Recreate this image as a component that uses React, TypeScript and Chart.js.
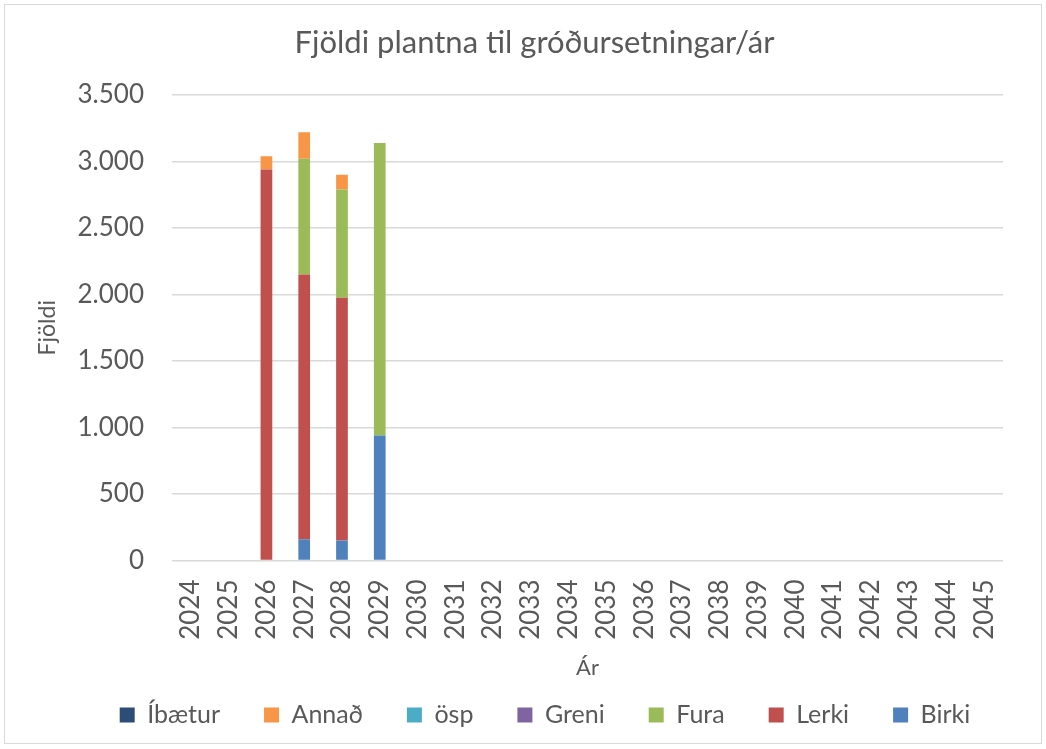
import React, { useEffect, useRef } from "react";
import { Chart, registerables } from "chart.js";

Chart.register(...registerables);

const TITLE = "Fjöldi plantna til gróðursetningar/ár";
const years = ["2024","2025","2026","2027","2028","2029","2030","2031","2032","2033","2034","2035","2036","2037","2038","2039","2040","2041","2042","2043","2044","2045"];
const birki = [0, 0, 0, 160, 150, 940, 0,0,0,0,0,0,0,0,0,0,0,0,0,0,0,0];
const lerki = [0, 0, 2940, 1990, 1825, 0, 0,0,0,0,0,0,0,0,0,0,0,0,0,0,0,0];
const fura = [0, 0, 0, 870, 815, 2200, 0,0,0,0,0,0,0,0,0,0,0,0,0,0,0,0];
const greni = [0, 0, 0, 0, 0, 0, 0,0,0,0,0,0,0,0,0,0,0,0,0,0,0,0];
const osp = [0, 0, 0, 0, 0, 0, 0,0,0,0,0,0,0,0,0,0,0,0,0,0,0,0];
const annad = [0, 0, 100, 200, 110, 0, 0,0,0,0,0,0,0,0,0,0,0,0,0,0,0,0];
const ibaetur = [0, 0, 0, 0, 0, 0, 0,0,0,0,0,0,0,0,0,0,0,0,0,0,0,0];

const FONT = "Lato, 'Open Sans', sans-serif";
const GREY = "#595959";

const titlePlugin = {
  id: "topTitle",
  afterLayout(chart: any) {
    const lg = chart.legend;
    if (lg) { lg.left += 36; lg.right += 36; }
  },
  afterDraw(chart: any) {
    const ctx = chart.ctx;
    ctx.save();
    ctx.font = `31px ${FONT}`;
    ctx.fillStyle = GREY;
    ctx.textAlign = "center";
    ctx.textBaseline = "alphabetic";
    ctx.fillText(TITLE, chart.width / 2 + 11.5, 48.3);
    ctx.restore();
  },
};

export default function App() {
  const ref = useRef<HTMLCanvasElement>(null);
  useEffect(() => {
    if (!ref.current) return;
    const mk = (label: string, data: number[], color: string) => ({
      label, data, backgroundColor: color, borderWidth: 0,
      barPercentage: 0.62, categoryPercentage: 0.5,
    });
    const chart = new Chart(ref.current, {
      type: "bar",
      data: {
        labels: years,
        datasets: [
          mk("Birki", birki, "#4F81BD"),
          mk("Lerki", lerki, "#C0504D"),
          mk("Fura", fura, "#9BBB59"),
          mk("Greni", greni, "#8064A2"),
          mk("ösp", osp, "#4BACC6"),
          mk("Annað", annad, "#F79646"),
          mk("Íbætur", ibaetur, "#2C4D75"),
        ],
      },
      plugins: [titlePlugin],
      options: {
        animation: false,
        responsive: true,
        maintainAspectRatio: false,
        layout: { padding: { left: 10, right: 38, top: 90, bottom: 5.5 } },
        plugins: {
          title: { display: false },
          legend: {
            position: "bottom",
            reverse: true,
            labels: {
              color: GREY,
              font: { family: FONT, size: 25 },
              boxWidth: 15,
              boxHeight: 15,
              padding: 44,
            },
          },
          tooltip: { enabled: false },
        },
        scales: {
          x: {
            stacked: true,
            grid: { display: false, drawTicks: false },
            border: { display: false },
            afterFit: (s: any) => { s.height = 98; },
            ticks: {
              color: GREY,
              font: { family: FONT, size: 26 },
              minRotation: 90,
              maxRotation: 90,
              autoSkip: false,
              padding: 19,
            },
            title: {
              display: true,
              text: "Ár",
              color: GREY,
              font: { family: FONT, size: 22 },
              padding: { top: 0, bottom: -22.2 },
            },
          },
          y: {
            stacked: true,
            min: 0,
            max: 3500,
            grid: { color: "#d9d9d9", lineWidth: 1.5, drawTicks: false },
            border: { display: false },
            afterFit: (s: any) => { s.width = 157; },
            ticks: {
              stepSize: 500,
              color: GREY,
              font: { family: FONT, size: 26 },
              padding: 28,
              callback: (v: any) => Number(v).toLocaleString("de-DE"),
            },
            title: {
              display: true,
              text: "Fjöldi",
              color: GREY,
              font: { family: FONT, size: 23 },
              padding: { top: 19.2, bottom: 0 },
            },
          },
        },
      },
    });
    return () => chart.destroy();
  }, []);
  return (
    <div style={{ position: "fixed", left: 4, top: 4, width: 1038, height: 740, border: "1px solid #d9d9d9", boxSizing: "border-box", background: "#fff" }}>
      <canvas ref={ref} />
    </div>
  );
}
